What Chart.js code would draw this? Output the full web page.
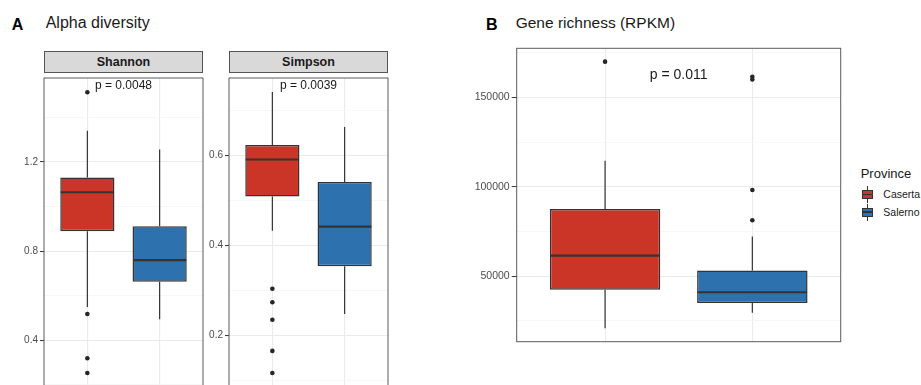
<!DOCTYPE html>
<html>
<head>
<meta charset="utf-8">
<script src="https://cdn.jsdelivr.net/npm/chart.js@4.4.1/dist/chart.umd.min.js"></script>
<style>
    html, body { margin: 0; padding: 0; width: 921px; height: 385px; overflow: hidden; background: #fff; }
    body { position: relative; font-family: "Liberation Sans", Arial, sans-serif; color: #1a1a1a; }
    .abs { position: absolute; white-space: nowrap; line-height: 1; }
    .tag { font-weight: bold; font-size: 16px; color: #000; }
    .title { font-size: 16px; }
    .strip { position: absolute; box-sizing: border-box; height: 22px; width: 159px; top: 51px;
             background: #d9d9d9; border: 1px solid #555; font-weight: bold; font-size: 12.5px;
             display: flex; align-items: center; justify-content: center; }
    canvas { position: absolute; }
    .key { position: absolute; width: 11px; height: 17px; }
    .key .wh { position: absolute; left: 5px; width: 1px; top: 0; height: 17px; background: #333; }
    .key .bx { position: absolute; left: 0; top: 4px; width: 11px; height: 9px; box-sizing: border-box; border: 1px solid #333; }
    .key .md { position: absolute; left: 0; top: 7.5px; width: 11px; height: 1.6px; background: #333; }
</style>
</head>
<body>

<div class="abs tag" style="left:11.7px; top:16.5px;">A</div>
<div class="abs title" style="left:45.7px; top:15px;">Alpha diversity</div>
<div class="abs tag" style="left:486px; top:16.5px;">B</div>
<div class="abs title" style="left:515.7px; top:15.2px; font-size:15.5px;">Gene richness (RPKM)</div>

<div class="strip" style="left:44px;">Shannon</div>
<div class="strip" style="left:229px;">Simpson</div>

<canvas id="shannonChart" width="207" height="325" style="left:0; top:70px;"></canvas>
<canvas id="simpsonChart" width="207" height="325" style="left:185px; top:70px;"></canvas>
<canvas id="geneChart" width="375" height="310" style="left:470px; top:40px;"></canvas>

<div class="abs" style="left:860.7px; top:167.3px; font-size:13px;">Province</div>
<div id="legendKeys"></div>

<script>
// Groups and colours
const provinces = ['Caserta', 'Salerno'];
const provinceColors = ['#cb3527', '#2d72af'];

// Box stats per group: [lower whisker, Q1, median, Q3, upper whisker]
const shannonCaserta = [0.55, 0.889, 1.064, 1.13, 1.34];
const shannonSalerno = [0.495, 0.663, 0.760, 0.912, 1.255];
const shannonOutCaserta = [1.512, 0.518, 0.32, 0.254];
const shannonOutSalerno = [];
const shannonBreaks = [0.4, 0.8, 1.2];
const shannonMinor = [0.2, 0.6, 1.0, 1.4];
const shannonTickLabels = ['0.4', '0.8', '1.2'];

const simpsonCaserta = [0.433, 0.509, 0.591, 0.623, 0.741];
const simpsonSalerno = [0.248, 0.354, 0.442, 0.541, 0.663];
const simpsonOutCaserta = [0.304, 0.274, 0.235, 0.166, 0.117];
const simpsonOutSalerno = [];
const simpsonBreaks = [0.2, 0.4, 0.6];
const simpsonMinor = [0.1, 0.3, 0.5, 0.7];
const simpsonTickLabels = ['0.2', '0.4', '0.6'];

const geneCaserta = [20880, 42530, 61600, 87680, 114560];
const geneSalerno = [29610, 35060, 41060, 53270, 72170];
const geneOutCaserta = [170000];
const geneOutSalerno = [98200, 81300, 161500, 160000];
const geneBreaks = [50000, 100000, 150000];
const geneMinor = [25000, 75000, 125000, 175000];
const geneTickLabels = ['50000', '100000', '150000'];

const pValues = ['p = 0.0048', 'p = 0.0039', 'p = 0.011'];

Chart.defaults.font.family = '"Liberation Sans", Arial, sans-serif';

// Whiskers, medians, panel border and p-value label
const boxWhiskerPlugin = {
    id: 'boxWhisker',
    beforeDatasetsDraw(chart, args, opts) {
        const ctx = chart.ctx;
        const xs = chart.scales.x;
        const ys = chart.scales.y;
        ctx.save();
        ctx.strokeStyle = '#333';
        ctx.lineWidth = 1.2;
        opts.stats.forEach((s, i) => {
            const x = xs.getPixelForValue(i + 1);
            ctx.beginPath();
            ctx.moveTo(x, ys.getPixelForValue(s[3]));
            ctx.lineTo(x, ys.getPixelForValue(s[4]));
            ctx.moveTo(x, ys.getPixelForValue(s[1]));
            ctx.lineTo(x, ys.getPixelForValue(s[0]));
            ctx.stroke();
        });
        ctx.restore();
    },
    afterDatasetsDraw(chart, args, opts) {
        const ctx = chart.ctx;
        const xs = chart.scales.x;
        const ys = chart.scales.y;
        const bars = chart.getDatasetMeta(1).data;
        ctx.save();
        ctx.strokeStyle = '#333';
        ctx.lineWidth = 2.2;
        opts.stats.forEach((s, i) => {
            const bar = bars[i];
            const y = ys.getPixelForValue(s[2]);
            ctx.beginPath();
            ctx.moveTo(bar.x - bar.width / 2 + 0.5, y);
            ctx.lineTo(bar.x + bar.width / 2 - 0.5, y);
            ctx.stroke();
        });
        ctx.restore();

        ctx.save();
        ctx.font = opts.pFont;
        ctx.fillStyle = '#1a1a1a';
        ctx.textAlign = 'center';
        ctx.textBaseline = 'middle';
        ctx.fillText(opts.pText, xs.getPixelForValue(1.5), ys.getPixelForValue(opts.pY));
        ctx.restore();
    },
    afterDraw(chart) {
        const a = chart.chartArea;
        const ctx = chart.ctx;
        ctx.save();
        ctx.strokeStyle = '#5a5a5a';
        ctx.lineWidth = 1;
        ctx.strokeRect(a.left, a.top, a.right - a.left, a.bottom - a.top);
        ctx.restore();
    }
};

function renderBoxChart(canvasId, cfg) {
    const canvas = document.getElementById(canvasId);
    const boxes = cfg.stats.map((s, i) => ({ x: i + 1, y: [s[1], s[3]] }));
    const outliers = [];
    cfg.outliers.forEach((list, i) => {
        list.forEach(v => outliers.push({ x: i + 1, y: v }));
    });

    return new Chart(canvas.getContext('2d'), {
        type: 'bar',
        data: {
            datasets: [
                {
                    type: 'scatter',
                    data: outliers,
                    backgroundColor: '#262626',
                    borderWidth: 0,
                    pointRadius: 2.3,
                    order: 0
                },
                {
                    type: 'bar',
                    data: boxes,
                    backgroundColor: provinceColors,
                    borderColor: '#333',
                    borderWidth: 1.5,
                    borderSkipped: false,
                    barPercentage: 0.75,
                    categoryPercentage: 1,
                    order: 1
                }
            ]
        },
        options: {
            responsive: false,
            animation: false,
            devicePixelRatio: 1,
            layout: { padding: cfg.padding },
            plugins: {
                legend: { display: false },
                tooltip: { enabled: false },
                boxWhisker: {
                    stats: cfg.stats,
                    pText: cfg.pText,
                    pY: cfg.pY,
                    pFont: cfg.pFont
                }
            },
            scales: {
                x: {
                    type: 'linear',
                    min: 0.4,
                    max: 2.6,
                    offset: false,
                    afterBuildTicks: s => { s.ticks = [{ value: 1 }, { value: 2 }]; },
                    afterFit: s => { s.height = 0; },
                    ticks: { display: false },
                    grid: { offset: false, color: '#ebebeb', lineWidth: 1.1, drawTicks: false },
                    border: { display: false }
                },
                y: {
                    type: 'linear',
                    min: cfg.yMin,
                    max: cfg.yMax,
                    afterBuildTicks: s => {
                        const t = cfg.breaks.map(v => ({ value: v }))
                            .concat(cfg.minor.map(v => ({ value: v, minor: true })));
                        t.sort((a, b) => a.value - b.value);
                        s.ticks = t;
                    },
                    afterFit: s => { s.width = cfg.axisWidth; },
                    ticks: {
                        autoSkip: false,
                        padding: 2,
                        color: '#4d4d4d',
                        font: { size: cfg.tickSize },
                        callback: function(value, index, ticks) {
                            const k = cfg.breaks.indexOf(value);
                            return k === -1 ? '' : cfg.tickLabels[k];
                        }
                    },
                    grid: {
                        color: ctx => (ctx.tick && ctx.tick.minor) ? '#f3f3f3' : '#ebebeb',
                        lineWidth: ctx => (ctx.tick && ctx.tick.minor) ? 0.7 : 1.1,
                        tickColor: ctx => (ctx.tick && ctx.tick.minor) ? 'rgba(0,0,0,0)' : '#333',
                        tickWidth: 1,
                        tickLength: cfg.tickLength
                    },
                    border: { display: false }
                }
            }
        },
        plugins: [boxWhiskerPlugin]
    });
}

renderBoxChart('shannonChart', {
    stats: [shannonCaserta, shannonSalerno],
    outliers: [shannonOutCaserta, shannonOutSalerno],
    breaks: shannonBreaks, minor: shannonMinor, tickLabels: shannonTickLabels,
    yMin: 0.191, yMax: 1.576,
    pText: pValues[0], pY: 1.541, pFont: '12px "Liberation Sans", Arial, sans-serif',
    axisWidth: 44, tickSize: 10, tickLength: 4,
    padding: { top: 3, right: 4, bottom: 5, left: 0 }
});

renderBoxChart('simpsonChart', {
    stats: [simpsonCaserta, simpsonSalerno],
    outliers: [simpsonOutCaserta, simpsonOutSalerno],
    breaks: simpsonBreaks, minor: simpsonMinor, tickLabels: simpsonTickLabels,
    yMin: 0.0858, yMax: 0.772,
    pText: pValues[1], pY: 0.7557, pFont: '12px "Liberation Sans", Arial, sans-serif',
    axisWidth: 44, tickSize: 10, tickLength: 4,
    padding: { top: 3, right: 4, bottom: 5, left: 0 }
});

renderBoxChart('geneChart', {
    stats: [geneCaserta, geneSalerno],
    outliers: [geneOutCaserta, geneOutSalerno],
    breaks: geneBreaks, minor: geneMinor, tickLabels: geneTickLabels,
    yMin: 13424, yMax: 177456,
    pText: pValues[2], pY: 162540, pFont: '14px "Liberation Sans", Arial, sans-serif',
    axisWidth: 46.7, tickSize: 10.5, tickLength: 5,
    padding: { top: 5, right: 4.3, bottom: 5, left: 0 }
});

// Legend keys built from the group arrays
const keyCenters = [194.6, 212];
const legendBox = document.getElementById('legendKeys');
provinces.forEach((name, i) => {
    const key = document.createElement('div');
    key.className = 'key';
    key.style.left = '861.7px';
    key.style.top = (keyCenters[i] - 8.5) + 'px';
    key.innerHTML = '<div class="wh"></div><div class="bx" style="background:' + provinceColors[i] +
        '"></div><div class="md"></div>';
    legendBox.appendChild(key);

    const label = document.createElement('div');
    label.className = 'abs';
    label.style.left = '883.3px';
    label.style.fontSize = '10.5px';
    label.style.top = (keyCenters[i] + 3.5 - 8.9) + 'px';
    label.textContent = name;
    legendBox.appendChild(label);
});
</script>
</body>
</html>
